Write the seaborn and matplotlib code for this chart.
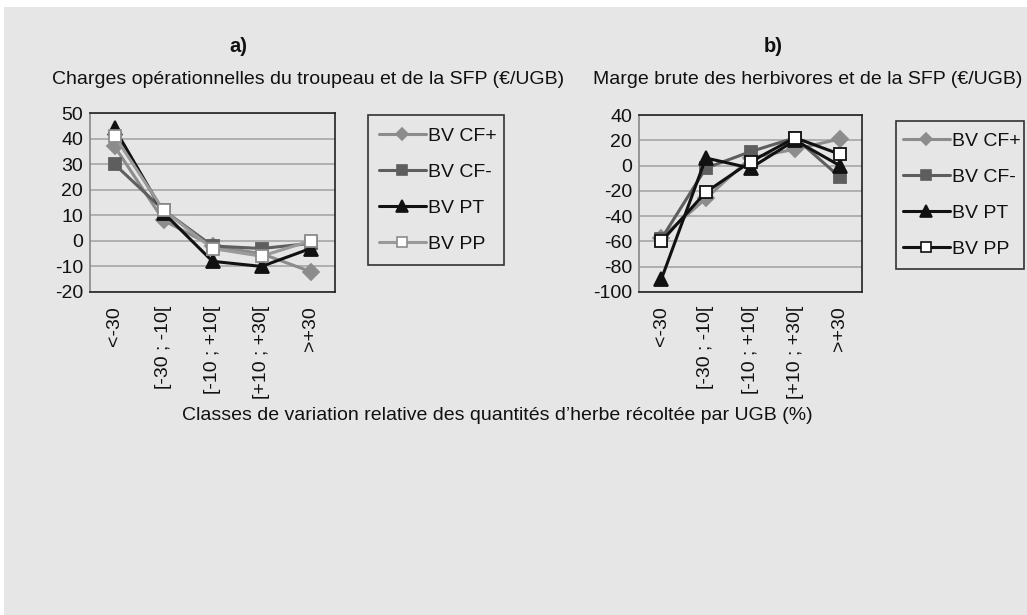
import matplotlib
matplotlib.use("Agg")
import matplotlib.pyplot as plt
import seaborn as sns
import numpy as np
from matplotlib.patches import Rectangle
from matplotlib.lines import Line2D

categories = ["<-30", "[-30 ; -10[", "[-10 ; +10[", "[+10 ; +30[", ">+30"]
series_names = ["BV CF+", "BV CF-", "BV PT", "BV PP"]

# a) Charges opérationnelles du troupeau et de la SFP (€/UGB)
a_cf_plus = [37, 8, -2, -5, -12]
a_cf_minus = [30, 12, -2, -3, -1]
a_pt = [44, 11, -8, -10, -3]
a_pp = [41, 12, -3, -6, 0]

# b) Marge brute des herbivores et de la SFP (€/UGB)
b_cf_plus = [-57, -26, 6, 13, 21]
b_cf_minus = [-58, -2, 11, 22, -9]
b_pt = [-90, 6, -2, 20, 0]
b_pp = [-60, -21, 3, 22, 9]

title_a = "a)"
title_b = "b)"
sub_a = "Charges opérationnelles du troupeau et de la SFP (€/UGB)"
sub_b = "Marge brute des herbivores et de la SFP (€/UGB)"
xlabel = "Classes de variation relative des quantités d\u2019herbe récoltée par UGB (%)"

sns.set_theme(style="white")
plt.rcParams["font.family"] = ["Liberation Sans", "DejaVu Sans"]

BG = "#e6e6e6"
W, H = 1027, 615
FS = 14
fig = plt.figure(figsize=(W / 100, H / 100), dpi=100, facecolor="white")
fig.patches.append(Rectangle((4 / W, 0), 1, 1 - 7 / H, transform=fig.transFigure,
                             facecolor=BG, edgecolor="none", zorder=-10))

styles_a = [
    dict(color="#8c8c8c", marker="D", mfc="#8c8c8c", mec="#8c8c8c", ms=8),
    dict(color="#5e5e5e", marker="s", mfc="#5e5e5e", mec="#5e5e5e", ms=8.5),
    dict(color="#111111", marker="^", mfc="#111111", mec="#111111", ms=10),
    dict(color="#9a9a9a", marker="s", mfc="white", mec="#8c8c8c", ms=8.5),
]
styles_b = [
    dict(color="#8c8c8c", marker="D", mfc="#8c8c8c", mec="#8c8c8c", ms=8),
    dict(color="#5e5e5e", marker="s", mfc="#5e5e5e", mec="#5e5e5e", ms=8.5),
    dict(color="#111111", marker="^", mfc="#111111", mec="#111111", ms=10),
    dict(color="#111111", marker="s", mfc="white", mec="#111111", ms=8.5),
]

def make_panel(rect, data, styles, ylim, yticks, legend_rect, lpad):
    ax = fig.add_axes(rect)
    ax.set_facecolor(BG)
    x = np.arange(len(categories))
    for vals, st in zip(data, styles):
        sns.lineplot(x=x, y=vals, ax=ax, color=st["color"], linewidth=2.2,
                     marker=st["marker"], markersize=st["ms"],
                     markerfacecolor=st["mfc"], markeredgecolor=st["mec"],
                     markeredgewidth=1.3, zorder=3)
    ax.set_xlim(-0.5, len(categories) - 0.5)
    ax.set_ylim(*ylim)
    ax.set_yticks(yticks)
    ax.set_yticklabels([str(t) for t in yticks], fontsize=FS, color="#111111")
    ax.set_xticks(x)
    ax.set_xticklabels(categories, rotation=90, fontsize=FS, color="#111111",
                       va="top", ha="center")
    ax.tick_params(axis="both", length=0, pad=5)
    ax.tick_params(axis="x", pad=10)
    ax.grid(axis="y", color="#a6a6a6", linewidth=1.2)
    ax.set_axisbelow(True)
    for s in ax.spines.values():
        s.set_visible(True)
        s.set_color("#222222")
        s.set_linewidth(1.2)
    ax.spines["left"].set_color("#888888")
    # legend
    handles = [Line2D([0], [0], color=st["color"], linewidth=2.2, marker=st["marker"],
                      markersize=st["ms"] * 0.8, markerfacecolor=st["mfc"],
                      markeredgecolor=st["mec"], markeredgewidth=1.2)
               for st in styles]
    lx0, ly0, lx1, ly1 = legend_rect
    fig.patches.append(Rectangle((lx0 / W, 1 - ly1 / H), (lx1 - lx0) / W, (ly1 - ly0) / H,
                                 transform=fig.transFigure, facecolor=BG,
                                 edgecolor="#333333", linewidth=1.2, zorder=1))
    leg = fig.legend(handles, series_names, loc="center left",
                     bbox_to_anchor=((lx0 + lpad) / W, 1 - (ly0 + ly1) / 2 / H),
                     frameon=False, fontsize=FS, handlelength=2.4, handletextpad=0.12,
                     labelspacing=0.95, borderaxespad=0, borderpad=0)
    for t in leg.get_texts():
        t.set_color("#111111")
    return ax

bottom = 1 - 292 / H
make_panel([90 / W, bottom, (335 - 90) / W, (292 - 113) / H],
           [a_cf_plus, a_cf_minus, a_pt, a_pp], styles_a,
           (-20, 50), list(range(-20, 51, 10)), (368, 115, 504, 265), 11)
make_panel([639 / W, bottom, (862 - 639) / W, (292 - 115) / H],
           [b_cf_plus, b_cf_minus, b_pt, b_pp], styles_b,
           (-100, 40), list(range(-100, 41, 20)), (896, 121, 1024, 269), 7)

fig.text(238 / W, 1 - 47 / H, title_a, ha="center", va="center", fontsize=14.5,
         fontweight="bold", color="#111111")
fig.text(773 / W, 1 - 47 / H, title_b, ha="center", va="center", fontsize=14.5,
         fontweight="bold", color="#111111")
fig.text(308 / W, 1 - 80 / H, sub_a, ha="center", va="center", fontsize=FS,
         color="#111111")
fig.text(808 / W, 1 - 80 / H, sub_b, ha="center", va="center", fontsize=FS,
         color="#111111")
fig.text(497 / W, 1 - 415 / H, xlabel, ha="center", va="center", fontsize=FS,
         color="#111111")

fig.savefig("out.png", dpi=100, facecolor="white")
